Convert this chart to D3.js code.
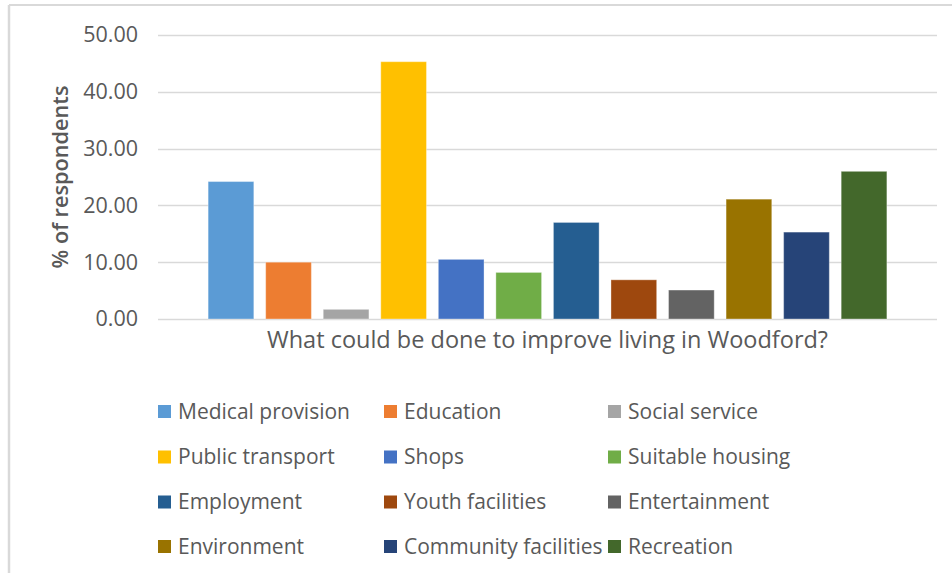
<!DOCTYPE html>
<html>
<head>
<meta charset="utf-8">
<script src="https://cdn.jsdelivr.net/npm/d3@7"></script>
<style>
  html, body { margin: 0; padding: 0; background: #fff; }
  svg { display: block; }
  text { font-family: "Open Sans", "Liberation Sans", sans-serif; fill: #595959; }
</style>
</head>
<body>
<svg id="chart" width="952" height="573"></svg>
<script>
// Survey responses: % of respondents choosing each improvement
const categories = [
  "Medical provision", "Education", "Social service", "Public transport",
  "Shops", "Suitable housing", "Employment", "Youth facilities",
  "Entertainment", "Environment", "Community facilities", "Recreation"
];
const values = [24.2, 10.0, 1.7, 45.3, 10.5, 8.2, 17.0, 6.9, 5.1, 21.1, 15.3, 26.0];
const colors = [
  "#5B9BD5", "#ED7D31", "#A5A5A5", "#FFC000", "#4472C4", "#70AD47",
  "#255E91", "#9E480E", "#636363", "#997300", "#264478", "#43682B"
];
const yTicks = [0, 10, 20, 30, 40, 50];
const xTitle = "What could be done to improve living in Woodford?";
const yTitle = "% of respondents";

const svg = d3.select("#chart");

// outer chart frame (top and left edges)
svg.append("line").attr("x1", 9).attr("x2", 952).attr("y1", 5).attr("y2", 5)
  .attr("stroke", "#d9d9d9").attr("stroke-width", 2);
svg.append("line").attr("x1", 9).attr("x2", 9).attr("y1", 5).attr("y2", 573)
  .attr("stroke", "#d9d9d9").attr("stroke-width", 2.5);

const plot = { left: 158, right: 937, top: 35, bottom: 319 };

const y = d3.scaleLinear().domain([0, 50]).range([plot.bottom, plot.top]);
const x = d3.scaleBand().domain(categories)
  .range([plot.left, plot.right])
  .paddingInner(0.206).paddingOuter(0.871);

// horizontal gridlines
svg.append("g").selectAll("line").data(yTicks).join("line")
  .attr("x1", plot.left).attr("x2", plot.right)
  .attr("y1", d => Math.round(y(d)) + 0.5).attr("y2", d => Math.round(y(d)) + 0.5)
  .attr("stroke", "#d9d9d9").attr("stroke-width", 1.3);

// y axis labels
const yAxis = d3.axisLeft(y).tickValues(yTicks).tickFormat(d3.format(".2f")).tickSize(0).tickPadding(0);
const yg = svg.append("g").attr("transform", `translate(138,0)`).call(yAxis);
yg.select(".domain").remove();
yg.selectAll("text").attr("font-size", 21.5).attr("fill", "#595959")
  .style("font-family", '"Open Sans", sans-serif');

// bars
svg.append("g").selectAll("rect").data(categories).join("rect")
  .attr("x", d => x(d))
  .attr("width", x.bandwidth())
  .attr("y", (d, i) => y(values[i]))
  .attr("height", (d, i) => y(0) - y(values[i]))
  .attr("fill", (d, i) => colors[i])
  .attr("stroke", "#ffffff").attr("stroke-opacity", 0.35).attr("stroke-width", 1);

// axis titles
svg.append("text")
  .attr("x", (plot.left + plot.right) / 2).attr("y", 348)
  .attr("text-anchor", "middle").attr("font-size", 23.5)
  .text(xTitle);

svg.append("text")
  .attr("transform", "translate(68,177) rotate(-90)")
  .attr("text-anchor", "middle").attr("font-size", 21.7).attr("font-weight", 600)
  .text(yTitle);

// legend: three columns, four rows
const legendCols = [158, 384, 608];
const legendRows = [411.5, 457, 502, 546.5];
const legend = svg.append("g").selectAll("g").data(categories).join("g")
  .attr("transform", (d, i) => `translate(${legendCols[i % 3]},${legendRows[Math.floor(i / 3)]})`);
legend.append("rect")
  .attr("x", 0).attr("y", -6.5).attr("width", 13).attr("height", 13)
  .attr("fill", (d, i) => colors[i]);
legend.append("text")
  .attr("x", 20).attr("y", 0).attr("dy", "0.35em")
  .attr("font-size", 21)
  .text(d => d);
</script>
</body>
</html>
